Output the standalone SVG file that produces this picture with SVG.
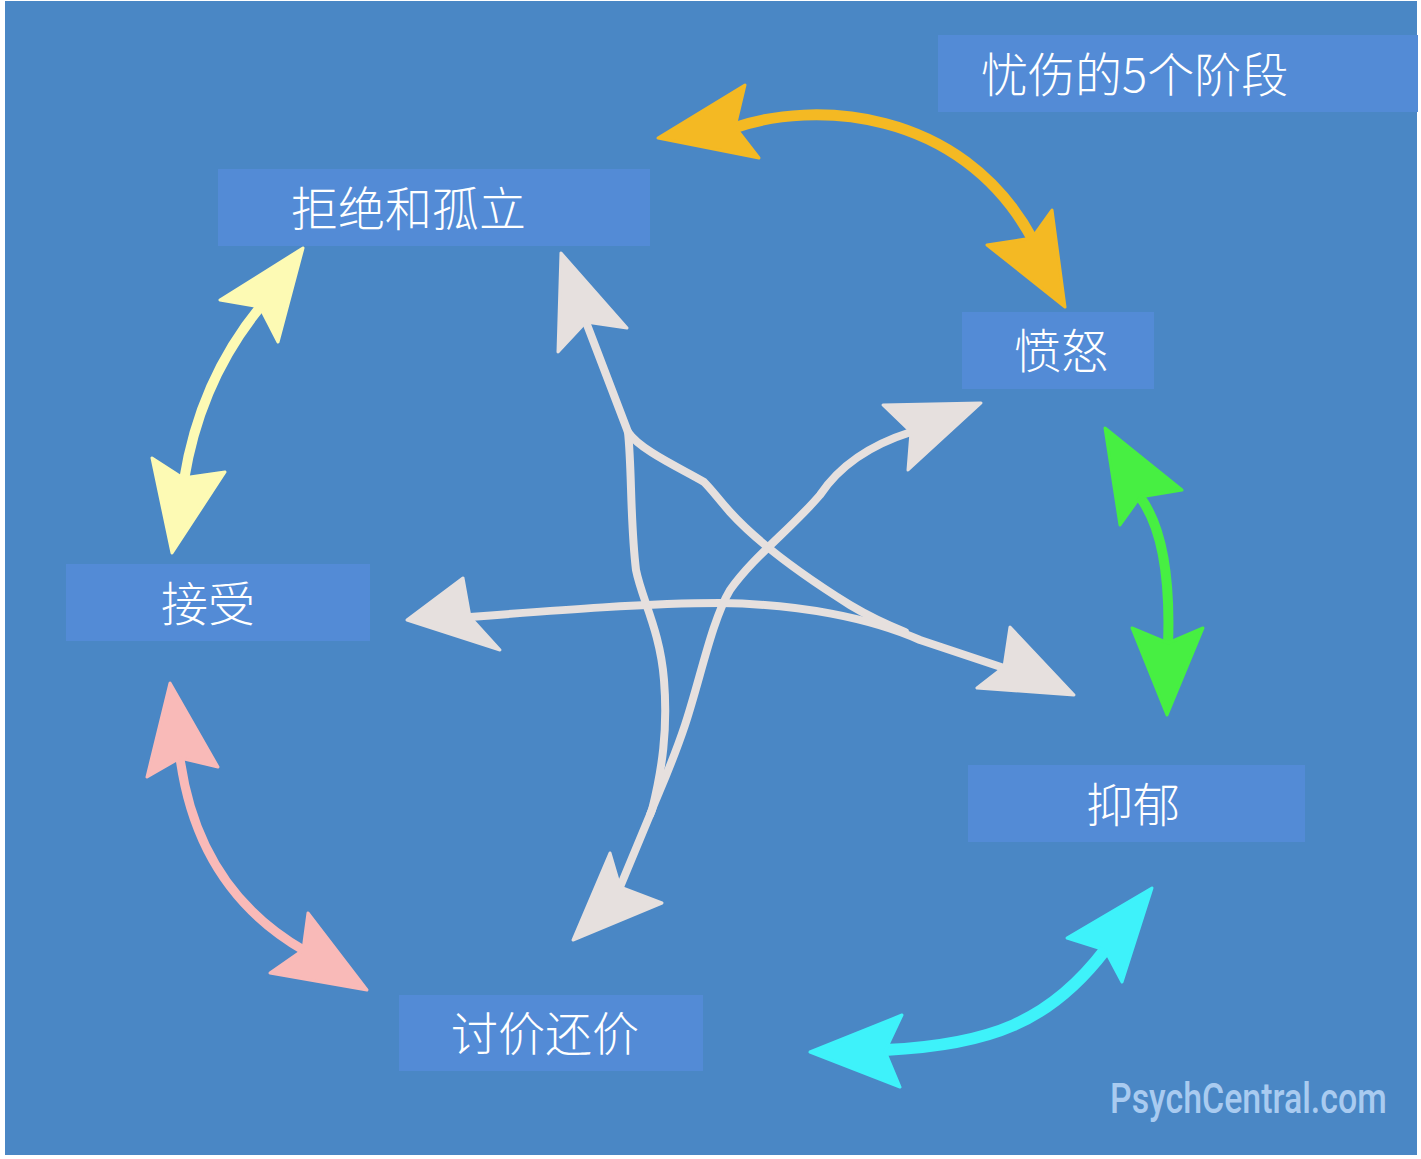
<svg xmlns="http://www.w3.org/2000/svg" width="1421" height="1159" viewBox="0 0 1421 1159">
<style>
.box{fill:#538BD6}
.lbl{font-family:"Noto Sans CJK SC","Noto Sans",sans-serif;font-size:47px;font-weight:300;fill:#FFFFFF}
.ln{fill:none;stroke-linecap:round;stroke-linejoin:round}
.hd{stroke-linejoin:round;stroke-width:3}
.y{stroke:#F4B923}.yf{fill:#F4B923;stroke:#F4B923}
.p{stroke:#FDFAB4}.pf{fill:#FDFAB4;stroke:#FDFAB4}
.k{stroke:#F9BAB8}.kf{fill:#F9BAB8;stroke:#F9BAB8}
.c{stroke:#3EF2FA}.cf{fill:#3EF2FA;stroke:#3EF2FA}
.g{stroke:#47EF42}.gf{fill:#47EF42;stroke:#47EF42}
.w{stroke:#E6E0DE}.wf{fill:#E6E0DE;stroke:#E6E0DE}
</style>
<rect x="0" y="0" width="1421" height="1159" fill="#FFFFFF"/>
<rect x="5" y="1" width="1412" height="1154" fill="#4A87C5"/>

<g id="connectors">
  <!-- yellow -->
  <path class="ln y" stroke-width="11" d="M737,127 C810,102 960,105 1033,240"/>
  <polygon class="hd yf" points="658,138 745,85 735,127 759,158"/>
  <polygon class="hd yf" points="1065,307 987,245 1032,238 1052,210"/>
  <!-- pale yellow -->
  <path class="ln p" stroke-width="10" d="M261,306 Q200,380 184,480"/>
  <polygon class="hd pf" points="303,248 220,300 260,307 278,342"/>
  <polygon class="hd pf" points="172,553 152,458 183,478 225,472"/>
  <!-- pink -->
  <path class="ln k" stroke-width="9" d="M180,758 Q198,890 305,951"/>
  <polygon class="hd kf" points="170,683 147,777 180,758 218,767"/>
  <polygon class="hd kf" points="367,990 270,973 303,950 308,913"/>
  <!-- cyan -->
  <path class="ln c" stroke-width="12" d="M885,1050 C990,1045 1050,1022 1105,950"/>
  <polygon class="hd cf" points="1152,888 1067,938 1105,950 1122,982"/>
  <polygon class="hd cf" points="810,1052 902,1015 885,1051 900,1087"/>
  <!-- green -->
  <path class="ln g" stroke-width="10" d="M1140,497 Q1172,540 1168,645"/>
  <polygon class="hd gf" points="1105,428 1120,525 1140,497 1182,490"/>
  <polygon class="hd gf" points="1167,715 1132,628 1168,643 1203,628"/>
  <!-- white star -->
  <path class="ln w" stroke-width="8" d="M586,322 L628,432 C632,470 630,520 636,570 C642,600 660,630 664,680 C668,730 662,770 652,810 L620,887"/>
  <path class="ln w" stroke-width="8" d="M628,432 C640,450 680,468 704,482 C712,490 716,496 730,512 C760,545 810,580 850,605 C870,617 885,624 905,632"/>
  <path class="ln w" stroke-width="8" d="M470,617 C560,610 650,603 720,603 C800,604 870,618 920,640 L1004,668"/>
  <path class="ln w" stroke-width="8" d="M911,432 C870,445 840,465 820,495 C790,530 755,555 730,590 C712,620 700,680 685,725 C670,770 655,800 650,815"/>
  <polygon class="hd wf" points="561,253 558,352 586,322 627,328"/>
  <polygon class="hd wf" points="981,403 883,405 911,432 908,470"/>
  <polygon class="hd wf" points="407,620 463,578 470,617 500,650"/>
  <polygon class="hd wf" points="1074,695 1010,627 1004,667 977,688"/>
  <polygon class="hd wf" points="573,940 610,853 620,887 662,903"/>
</g>

<g id="title">
  <rect class="box" x="938" y="35" width="480" height="77"/>
  <text class="lbl" x="981" y="92" font-size="46">忧伤的5个阶段</text>
</g>
<g id="node-denial">
  <rect class="box" x="218" y="169" width="432" height="77"/>
  <text class="lbl" x="291" y="226">拒绝和孤立</text>
</g>
<g id="node-anger">
  <rect class="box" x="962" y="312" width="192" height="77"/>
  <text class="lbl" x="1014" y="368">愤怒</text>
</g>
<g id="node-acceptance">
  <rect class="box" x="66" y="564" width="304" height="77"/>
  <text class="lbl" x="161" y="621">接受</text>
</g>
<g id="node-depression">
  <rect class="box" x="968" y="765" width="337" height="77"/>
  <text class="lbl" x="1086" y="822">抑郁</text>
</g>
<g id="node-bargaining">
  <rect class="box" x="399" y="995" width="304" height="76"/>
  <text class="lbl" x="451" y="1051">讨价还价</text>
</g>
<text transform="translate(1110,1113) scale(0.8,1)" x="0" y="0" font-family="Roboto, 'Liberation Sans', sans-serif" font-size="43" font-weight="500" fill="#A9CBF0" textLength="346" lengthAdjust="spacingAndGlyphs">PsychCentral.com</text>
</svg>
